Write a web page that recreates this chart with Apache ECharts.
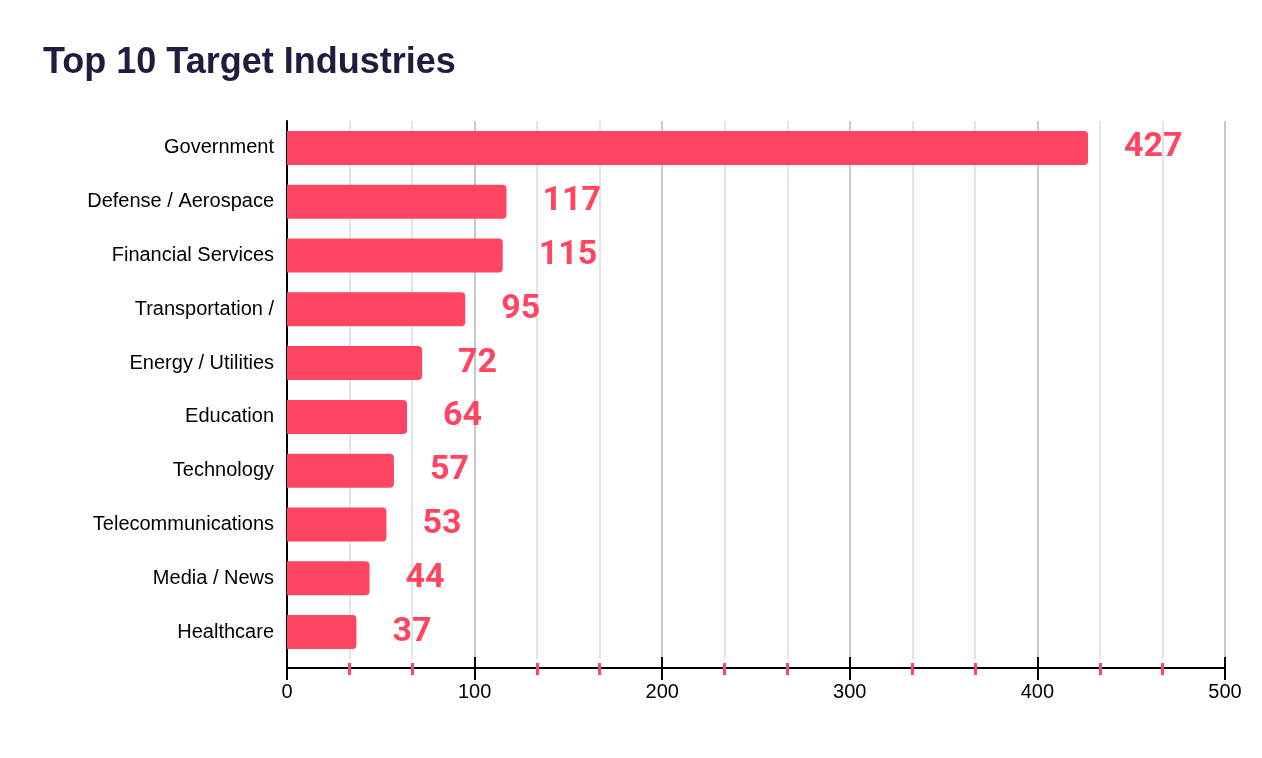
<!DOCTYPE html>
<html>
<head>
<meta charset="utf-8">
<script src="https://cdn.jsdelivr.net/npm/echarts@6/dist/echarts.min.js"></script>
<style>html,body{margin:0;background:#fff}#chart{width:1262px;height:758px}</style>
</head>
<body>
<div id="chart"></div>
<script>
var industries = ['Government', 'Defense / Aerospace', 'Financial Services', 'Transportation /',
  'Energy / Utilities', 'Education', 'Technology', 'Telecommunications', 'Media / News', 'Healthcare'];
var counts = [427, 117, 115, 95, 72, 64, 57, 53, 44, 37];

var red = '#ff4561';
var chart = echarts.init(document.getElementById('chart'));

chart.setOption({
  backgroundColor: '#fff',
  animation: false,
  title: {
    text: 'Top 10 Target Industries',
    left: 38, top: 40,
    textStyle: { fontFamily: 'Liberation Sans', fontWeight: 'bold', fontSize: 36, color: '#1f1d3d' }
  },
  grid: { left: 287, right: 37, top: 121, bottom: 99 },
  xAxis: [{
    type: 'value', min: 0, max: 500, interval: 100, offset: 9,
    axisLine: { show: true, lineStyle: { color: '#000', width: 2 } },
    axisTick: { show: true, length: 12, lineStyle: { color: '#000', width: 2 } },
    minorTick: { show: true, splitNumber: 3, length: 7, lineStyle: { color: red, width: 3 } },
    axisLabel: { margin: 14, fontFamily: 'Liberation Sans', fontSize: 20, color: '#000' },
    splitLine: { show: true, lineStyle: { color: '#c8c8c8', width: 2 } },
    minorSplitLine: { show: true, lineStyle: { color: '#e4e4e4', width: 2 } }
  }, {
    type: 'value', min: 0, max: 500, interval: 100, position: 'bottom', offset: 9,
    axisLine: { show: false },
    axisTick: { show: true, inside: true, length: 11, lineStyle: { color: '#000', width: 2 } },
    minorTick: { show: true, splitNumber: 3, length: 5, lineStyle: { color: red, width: 3 } },
    axisLabel: { show: false },
    splitLine: { show: false }
  }],
  yAxis: {
    type: 'category', inverse: true, data: industries,
    axisLine: { show: true, lineStyle: { color: '#000', width: 2 } },
    axisTick: { show: false },
    axisLabel: { margin: 13, fontFamily: 'Liberation Sans', fontSize: 20, color: '#000' }
  },
  series: [{
    type: 'bar', data: counts, barWidth: 34, xAxisIndex: 0,
    itemStyle: { color: red, borderRadius: [0, 4, 4, 0] },
    label: {
      show: true, position: 'right', distance: 36,
      fontFamily: 'Roboto', fontWeight: 'bold', fontSize: 34, color: red
    }
  }]
});
</script>
</body>
</html>
